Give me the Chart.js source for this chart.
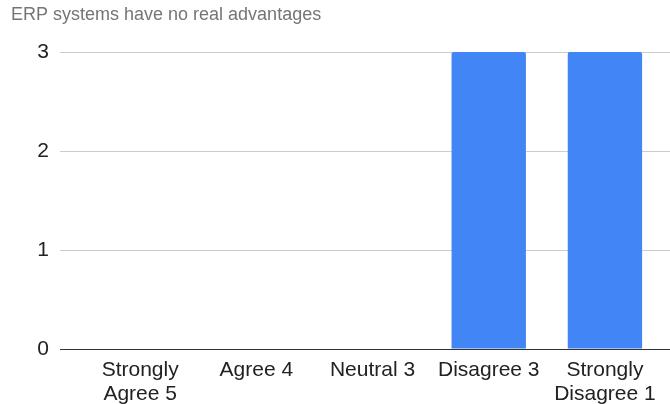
<!DOCTYPE html>
<html>
<head>
<meta charset="utf-8">
<script src="https://cdn.jsdelivr.net/npm/chart.js@4"></script>
<style>
  html, body { margin: 0; padding: 0; background: #fff; }
  canvas { display: block; }
</style>
</head>
<body>
<canvas id="erpChart" width="670" height="404"></canvas>
<script>
const chartTitle = "ERP systems have no real advantages";
const categories = [
  ["Strongly", "Agree 5"],
  ["Agree 4"],
  ["Neutral 3"],
  ["Disagree 3"],
  ["Strongly", "Disagree 1"],
];
const responses = [0, 0, 0, 3, 3];
const yTicks = [0, 1, 2, 3];

const FONT = "'Liberation Sans', Arial, sans-serif";

// title sits flush left above the plot
const titlePlugin = {
  id: "leftTitle",
  afterDraw(chart) {
    const ctx = chart.ctx;
    ctx.save();
    ctx.font = "18px " + FONT;
    ctx.fillStyle = "#757575";
    ctx.textBaseline = "middle";
    ctx.textAlign = "left";
    ctx.fillText(chartTitle, 11, 15);
    ctx.restore();
  },
};

const ctx = document.getElementById("erpChart").getContext("2d");

new Chart(ctx, {
  type: "bar",
  data: {
    datasets: [
      {
        data: responses.map((v, i) => ({ x: i, y: v })),
        backgroundColor: "#4285F4",
        borderWidth: 0,
        borderRadius: { topLeft: 2, topRight: 2 },
        borderSkipped: "bottom",
        categoryPercentage: 1,
        barPercentage: 0.64,
      },
    ],
  },
  options: {
    responsive: false,
    animation: false,
    layout: { padding: { top: 52, left: 0, right: 0, bottom: 0 } },
    plugins: {
      legend: { display: false },
      title: { display: false },
      tooltip: { enabled: false },
    },
    scales: {
      x: {
        type: "linear",
        offset: false,
        min: -0.69,
        max: 4.56,
        grid: { display: false, drawTicks: false },
        border: { display: false },
        afterBuildTicks: (scale) => {
          scale.ticks = categories.map((_, i) => ({ value: i }));
        },
        afterFit: (scale) => { scale.height = 55; },
        ticks: {
          autoSkip: false,
          maxRotation: 0,
          padding: 9,
          color: "#222",
          font: { family: FONT, size: 21, lineHeight: 1.15 },
          callback: (v) => categories[v],
        },
      },
      y: {
        min: 0,
        max: 3,
        afterBuildTicks: (scale) => {
          scale.ticks = yTicks.map((v) => ({ value: v }));
        },
        afterFit: (scale) => { scale.width = 60; },
        grid: {
          drawTicks: false,
          lineWidth: 1,
          color: (c) => (c.tick && c.tick.value === 0 ? "#333" : "#ccc"),
        },
        border: { display: false },
        ticks: {
          padding: 11,
          color: "#222",
          font: { family: FONT, size: 21 },
        },
      },
    },
  },
  plugins: [titlePlugin],
});
</script>
</body>
</html>
